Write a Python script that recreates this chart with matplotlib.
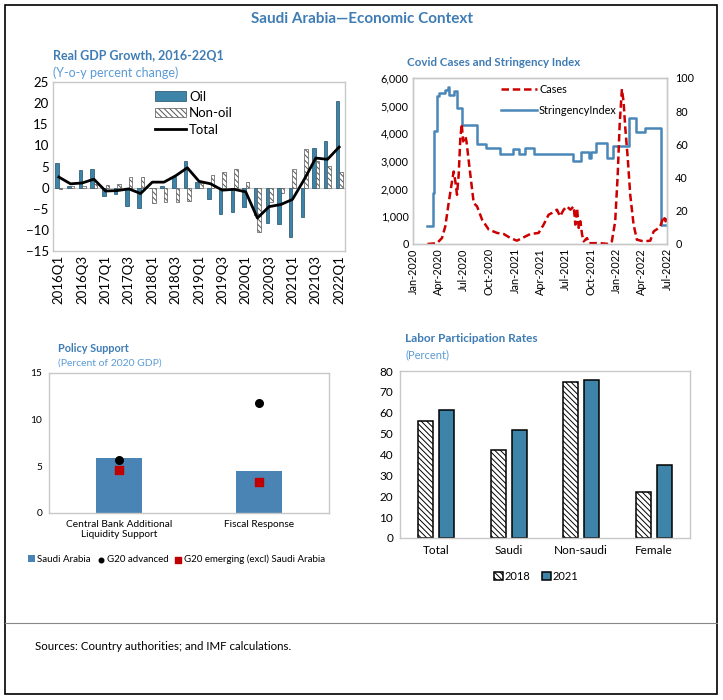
import numpy as np
import pandas as pd
import matplotlib
matplotlib.use("Agg")
import matplotlib.pyplot as plt
import matplotlib.dates as mdates
from matplotlib.patches import Rectangle
from matplotlib.lines import Line2D
from matplotlib.ticker import FuncFormatter

plt.rcParams['font.family'] = ['Lato', 'DejaVu Sans']
plt.rcParams['hatch.linewidth'] = 0.7

W, H = 723, 700
TITLE_BLUE = '#3f7cb4'
SUB_BLUE = '#5b9bd5'
OIL_BLUE = '#3e84a8'
GRID_GRAY = '#c8c8c8'

# ---- data: real GDP growth (y-o-y, percent) ----
quarters = ['2016Q1', '2016Q2', '2016Q3', '2016Q4', '2017Q1', '2017Q2', '2017Q3', '2017Q4',
            '2018Q1', '2018Q2', '2018Q3', '2018Q4', '2019Q1', '2019Q2', '2019Q3', '2019Q4',
            '2020Q1', '2020Q2', '2020Q3', '2020Q4', '2021Q1', '2021Q2', '2021Q3', '2021Q4',
            '2022Q1']
gdp_oil = [5.9, 0.3, 4.2, 4.5, -1.9, -1.6, -4.3, -4.8, 0.0, 0.3, 2.6, 6.3,
           1.3, -2.6, -6.3, -5.7, -4.7, -6.5, -8.3, -8.7, -11.7, -6.9, 9.4, 11.1, 20.5]
gdp_nonoil = [-0.3, 0.3, 0.3, 0.8, 0.6, 0.8, 2.6, 2.4, -3.6, -3.4, -3.4, -3.1,
              1.2, 2.9, 3.7, 4.5, 1.3, -10.5, -3.4, -1.2, 4.4, 9.1, 6.4, 5.2, 3.7]
gdp_total = [2.5, 0.9, 1.1, 2.0, -0.8, -0.7, -0.3, -1.4, 1.3, 1.3, 2.8, 4.7,
             1.5, 0.9, -0.6, -0.4, -1.0, -7.2, -4.5, -4.0, -2.8, 1.9, 7.0, 6.7, 9.6]

# ---- data: covid cases (daily) and stringency index ----
case_dates = ['2020-02-22', '2020-03-27', '2020-04-14', '2020-04-26', '2020-05-08', '2020-05-20',
              '2020-05-26', '2020-06-01', '2020-06-07', '2020-06-13', '2020-06-19', '2020-06-24',
              '2020-06-29', '2020-07-07', '2020-07-11', '2020-07-22', '2020-08-06', '2020-08-18',
              '2020-09-05', '2020-09-29', '2020-10-29', '2020-11-22', '2020-12-15', '2021-01-08',
              '2021-02-01', '2021-02-25', '2021-03-27', '2021-04-14', '2021-05-02', '2021-05-14',
              '2021-06-01', '2021-06-12', '2021-06-25', '2021-07-07', '2021-07-19', '2021-07-31',
              '2021-08-06', '2021-08-12', '2021-08-18', '2021-08-24', '2021-08-30', '2021-09-05',
              '2021-09-17', '2021-09-23', '2021-10-11', '2021-11-04', '2021-12-04', '2021-12-15',
              '2021-12-27', '2022-01-05', '2022-01-12', '2022-01-20', '2022-01-26', '2022-02-01',
              '2022-02-10', '2022-02-19', '2022-03-03', '2022-03-15', '2022-04-08', '2022-05-02',
              '2022-05-14', '2022-05-28', '2022-06-07', '2022-06-13', '2022-06-19', '2022-06-26',
              '2022-06-30']
cases = [0, 30, 215, 640, 1480, 2260,
         2620, 2260, 1780, 2500, 3830, 4340,
         3710, 3890, 3710, 2750, 1480, 1360,
         880, 520, 400, 360, 220, 120,
         240, 360, 400, 700, 1060, 1120,
         1240, 1000, 1240, 1360, 1240, 1360,
         700, 1300, 580, 820, 340, 95,
         215, 30, 30, 30, 0, 95,
         820, 2500, 4310, 5600, 5150, 4220,
         3110, 1780, 700, 155, 95, 120,
         455, 550, 640, 820, 1000, 820,
         1060]

stringency_dates = ['2020-02-22', '2020-03-12', '2020-03-18', '2020-03-26', '2020-04-02', '2020-04-26',
                    '2020-05-04', '2020-05-09', '2020-05-29', '2020-06-06', '2020-06-25', '2020-08-16',
                    '2020-09-20', '2020-11-07', '2020-12-24', '2021-01-14', '2021-02-05', '2021-03-11',
                    '2021-07-28', '2021-08-26', '2021-09-23', '2021-10-01', '2021-10-19', '2021-11-28',
                    '2021-12-19', '2022-02-15', '2022-03-11', '2022-04-13', '2022-06-10', '2022-06-30']
stringency = [11, 31, 68, 89, 91, 93,
              94.5, 90, 92, 82, 71.5, 60,
              58, 54, 57, 54, 58, 54,
              50, 55.5, 52, 55.7, 61, 52,
              58.8, 76, 67.5, 70, 11.2, 11.2]

# ---- data: policy support (percent of 2020 GDP) ----
policy_cats = ['Central Bank Additional\nLiquidity Support', 'Fiscal Response']
policy_saudi = [5.85, 4.45]
policy_g20_adv = [5.7, 11.8]
policy_g20_em = [4.6, 3.35]

# ---- data: labor participation rates (percent) ----
labor_cats = ['Total', 'Saudi', 'Non-saudi', 'Female']
labor_2018 = [56, 42, 74.5, 22]
labor_2021 = [61.5, 51.5, 75.5, 35]


def add_axes_px(fig, x0, y0, x1, y1):
    return fig.add_axes([x0 / W, 1 - y1 / H, (x1 - x0) / W, (y1 - y0) / H])


def style_box(ax):
    for s in ax.spines.values():
        s.set_color(GRID_GRAY)
        s.set_linewidth(1.0)


fig = plt.figure(figsize=(W / 100, H / 100), dpi=100)

# outer frame and title
fig.add_artist(Rectangle((5 / W, 1 - 694 / H), 712 / W, 689 / H, transform=fig.transFigure,
                         fill=False, edgecolor='black', linewidth=1.2))
fig.add_artist(Line2D([5 / W, 717 / W], [1 - 623 / H, 1 - 623 / H], transform=fig.transFigure,
                      color='#888888', linewidth=0.8))
fig.text(362 / W, 1 - 19 / H, 'Saudi Arabia\u2014Economic Context', ha='center', va='center',
         fontsize=11, fontweight='bold', color=TITLE_BLUE)
fig.text(35 / W, 1 - 647 / H, 'Sources: Country authorities; and IMF calculations.',
         ha='left', va='center', fontsize=8.3)

# ---- panel 1: GDP growth ----
ax1 = add_axes_px(fig, 53, 82, 345, 251)
x = np.arange(len(quarters))
bw = 0.3
b_oil = ax1.bar(x - bw / 2, gdp_oil, width=bw, color=OIL_BLUE, edgecolor='#1f4f66',
                linewidth=0.5, label='Oil')
b_non = ax1.bar(x + bw / 2, gdp_nonoil, width=bw, color='white', edgecolor='#555555',
                linewidth=0.5, hatch='\\\\\\\\\\\\', label='Non-oil')
l_tot, = ax1.plot(x, gdp_total, color='black', linewidth=2, label='Total')
ax1.axhline(0, color=GRID_GRAY, linewidth=0.8, zorder=0)
ax1.set_xlim(-0.5, len(quarters) - 0.5)
ax1.set_ylim(-15, 25)
ax1.set_yticks(range(-15, 26, 5))
ax1.set_xticks(x[::2])
ax1.set_xticklabels(quarters[::2], rotation=90)
ax1.tick_params(axis='both', labelsize=9.5, length=0, pad=3)
style_box(ax1)
ax1.legend([b_oil, b_non, l_tot], ['Oil', 'Non-oil', 'Total'], loc='upper left',
           bbox_to_anchor=(0.33, 0.98), frameon=False, fontsize=9.5,
           handlelength=2.4, handletextpad=0.2, labelspacing=0.35, borderaxespad=0)
fig.text(53 / W, 1 - 56 / H, 'Real GDP Growth, 2016-22Q1', fontsize=9, fontweight='bold',
         color=TITLE_BLUE, va='center')
fig.text(53 / W, 1 - 73 / H, '(Y-o-y percent change)', fontsize=9, color=SUB_BLUE, va='center')

# ---- panel 2: covid cases and stringency ----
ax2 = add_axes_px(fig, 413, 78, 667, 244)
cd = pd.to_datetime(case_dates)
sd = pd.to_datetime(stringency_dates)
ax2r = ax2.twinx()
ax2r.step(sd, stringency, where='post', color='#4a86b8', linewidth=1.8, label='StringencyIndex')
ax2r.set_ylim(0, 100)
ax2r.set_yticks(range(0, 101, 20))
ax2r.tick_params(axis='y', labelsize=7.8, length=0, pad=6)
# draw cases on top of the stringency line
ax2.set_zorder(ax2r.get_zorder() + 1)
ax2.patch.set_visible(False)
l_cases, = ax2.plot(cd, cases, color='#cc0000', linewidth=1.8, linestyle=(0, (3, 1.5)),
                    label='Cases')
ax2.set_xlim(pd.Timestamp('2020-01-01'), pd.Timestamp('2022-07-01'))
ax2.set_ylim(0, 6000)
ax2.set_yticks(range(0, 6001, 1000))
ax2.yaxis.set_major_formatter(FuncFormatter(lambda v, p: f'{int(v):,}'))
ax2.xaxis.set_major_locator(mdates.MonthLocator(bymonth=[1, 4, 7, 10]))
ax2.xaxis.set_major_formatter(mdates.DateFormatter('%b-%Y'))
plt.setp(ax2.get_xticklabels(), rotation=90)
ax2.tick_params(axis='both', labelsize=7.8, length=0, pad=3)
style_box(ax2)
style_box(ax2r)
h2, l2 = ax2r.get_legend_handles_labels()
ax2.legend([l_cases] + h2, ['Cases'] + l2, loc='upper left', bbox_to_anchor=(0.33, 0.99),
           frameon=False, fontsize=7.8, handlelength=3.3, handletextpad=0.2,
           labelspacing=0.9, borderaxespad=0)
fig.text(407 / W, 1 - 63 / H, 'Covid Cases and Stringency Index', fontsize=8.3,
         fontweight='bold', color=TITLE_BLUE, va='center')

# ---- panel 3: policy support ----
ax3 = add_axes_px(fig, 49, 373, 329, 513)
xp = np.arange(len(policy_cats))
b_sa = ax3.bar(xp, policy_saudi, width=0.33, color='#4a84b4', label='Saudi Arabia')
s_adv = ax3.scatter(xp, policy_g20_adv, s=30, color='black', zorder=3, label='G20 advanced')
s_em = ax3.scatter(xp, policy_g20_em, s=40, marker='s', color='#c00000', zorder=3,
                   label='G20 emerging (excl) Saudi Arabia')
ax3.set_xlim(-0.5, 1.5)
ax3.set_ylim(0, 15)
ax3.set_yticks([0, 5, 10, 15])
ax3.set_xticks(xp)
ax3.set_xticklabels(policy_cats)
ax3.tick_params(axis='both', labelsize=7.3, length=0, pad=5)
style_box(ax3)
ax3.legend([b_sa, s_adv, s_em], ['Saudi Arabia', 'G20 advanced', 'G20 emerging (excl) Saudi Arabia'],
           loc='upper left', bbox_to_anchor=(-0.09, -0.27), ncol=3, frameon=False, fontsize=7,
           handlelength=0.8, handletextpad=0.2, columnspacing=0.6, borderaxespad=0,
           markerscale=0.6)
fig.text(58 / W, 1 - 348 / H, 'Policy Support', fontsize=7.8, fontweight='bold',
         color=TITLE_BLUE, va='center')
fig.text(58 / W, 1 - 363 / H, '(Percent of 2020 GDP)', fontsize=7.5, color=SUB_BLUE, va='center')

# ---- panel 4: labor participation ----
ax4 = add_axes_px(fig, 400, 371, 690, 538)
xl = np.arange(len(labor_cats))
lw = 0.21
ax4.bar(xl - 0.145, labor_2018, width=lw, color='white', edgecolor='black', linewidth=1.1,
        hatch='\\\\\\\\\\\\', label='2018')
ax4.bar(xl + 0.145, labor_2021, width=lw, color=OIL_BLUE, edgecolor='black', linewidth=1.1,
        label='2021')
ax4.set_xlim(-0.5, len(labor_cats) - 0.5)
ax4.set_ylim(0, 80)
ax4.set_yticks(range(0, 81, 10))
ax4.set_xticks(xl)
ax4.set_xticklabels(labor_cats)
ax4.tick_params(axis='both', labelsize=8.5, length=0, pad=5)
style_box(ax4)
ax4.legend(loc='upper center', bbox_to_anchor=(0.47, -0.17), ncol=2, frameon=False, fontsize=8,
           handlelength=0.8, handleheight=0.8, handletextpad=0.2, columnspacing=1.0,
           borderaxespad=0)
fig.text(405 / W, 1 - 338 / H, 'Labor Participation Rates', fontsize=8.5, fontweight='bold',
         color=TITLE_BLUE, va='center')
fig.text(405 / W, 1 - 355 / H, '(Percent)', fontsize=8, color=SUB_BLUE, va='center')

fig.savefig('out.png', dpi=100)
